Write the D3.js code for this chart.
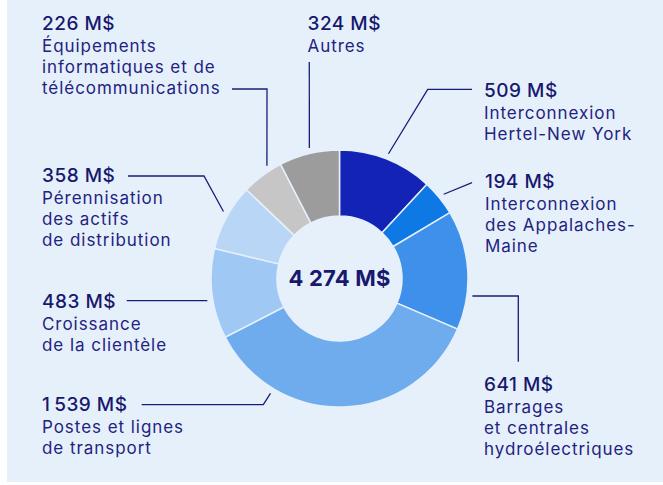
<!DOCTYPE html>
<html>
<head>
<meta charset="utf-8">
<script src="https://cdn.jsdelivr.net/npm/d3@7"></script>
<style>
  html, body { margin: 0; padding: 0; background: #ffffff; }
  svg { display: block; }
</style>
</head>
<body>
<svg id="chart" width="663" height="485"></svg>
<script>
// ---- Data ----
const categories = [
  "Interconnexion Hertel-New York",
  "Interconnexion des Appalaches-Maine",
  "Barrages et centrales hydroélectriques",
  "Postes et lignes de transport",
  "Croissance de la clientèle",
  "Pérennisation des actifs de distribution",
  "Équipements informatiques et de télécommunications",
  "Autres"
];
const values = [509, 194, 641, 1539, 483, 358, 226, 324];
const valueLabels = ["509 M$", "194 M$", "641 M$", "1\u2009539 M$", "483 M$", "358 M$", "226 M$", "324 M$"];
const labelLines = [
  ["Interconnexion", "Hertel-New York"],
  ["Interconnexion", "des Appalaches-", "Maine"],
  ["Barrages", "et centrales", "hydroélectriques"],
  ["Postes et lignes", "de transport"],
  ["Croissance", "de la clientèle"],
  ["Pérennisation", "des actifs", "de distribution"],
  ["Équipements", "informatiques et de", "télécommunications"],
  ["Autres"]
];
const totalLabel = "4 274 M$";

// ---- Styles / layout ----
const colors = ["#1323b6", "#0e78e4", "#3e90ea", "#6facee", "#a0c8f4", "#b9d6f7", "#c6c6c6", "#9c9c9c"];
const navy = "#17186e";
const descColor = "#23237f";
const cx = 339.5, cy = 278.5, R = 128.5, r0 = 62.5, rLine = 134;

// label anchor (text x, value baseline), connector start/elbow, optional end angle (deg)
const layout = [
  { x: 484, y: 97,  pts: [[472, 89.3], [427.7, 89.3]] },
  { x: 485, y: 188, pts: [[472, 182.7]] },
  { x: 484, y: 391, pts: [[518.3, 361.7], [518.3, 296]], angle: 97.5 },
  { x: 42,  y: 411, pts: [[141.7, 404.7], [263.3, 404.7]], angle: 211 },
  { x: 42,  y: 307.5, pts: [[126.7, 300.7]], angle: 260.5 },
  { x: 42,  y: 182, pts: [[128, 176], [204, 176]], angle: 300 },
  { x: 42,  y: 29.5, pts: [[232, 89], [267, 89]], angle: 327.2 },
  { x: 307.5, y: 29.5, pts: [[309.3, 62]], angle: 347 }
];

const svg = d3.select("#chart");

svg.append("rect")
  .attr("x", 7).attr("y", 0)
  .attr("width", 656).attr("height", 482)
  .attr("fill", "#e6f0fb");

const pie = d3.pie().value(d => d).sort(null);
const arcs = pie(values);
const arc = d3.arc().innerRadius(r0).outerRadius(R);

const g = svg.append("g").attr("transform", `translate(${cx},${cy})`);
g.selectAll("path.slice")
  .data(arcs)
  .join("path")
  .attr("class", "slice")
  .attr("d", arc)
  .attr("fill", (d, i) => colors[i])
  .attr("stroke", "#e6f0fb")
  .attr("stroke-width", 1.5);

g.append("text")
  .attr("x", 0).attr("y", 7)
  .attr("text-anchor", "middle")
  .attr("font-family", "Inter, 'Noto Sans', sans-serif")
  .attr("font-weight", 700)
  .attr("font-size", 22)
  .attr("letter-spacing", 0.2)
  .attr("fill", navy)
  .text(totalLabel);

// connectors and labels
arcs.forEach((a, i) => {
  const L = layout[i];
  const angDeg = L.angle != null ? L.angle : ((a.startAngle + a.endAngle) / 2) * 180 / Math.PI;
  const ang = angDeg * Math.PI / 180;
  const end = [cx + rLine * Math.sin(ang), cy - rLine * Math.cos(ang)];
  const pts = L.pts.concat([end]);
  svg.append("path")
    .attr("d", d3.line()(pts))
    .attr("fill", "none")
    .attr("stroke", "#1b1c78")
    .attr("stroke-width", 1.3);

  const t = svg.append("g");
  t.append("text")
    .attr("x", L.x).attr("y", L.y)
    .attr("font-family", "Inter, 'Noto Sans', sans-serif")
    .attr("font-weight", 500)
    .attr("font-size", 19)
    .attr("letter-spacing", 0.5)
    .attr("fill", navy)
    .text(valueLabels[i]);
  labelLines[i].forEach((line, j) => {
    t.append("text")
      .attr("x", L.x).attr("y", L.y + 22 + j * 21)
      .attr("font-family", "Inter, 'Noto Sans', sans-serif")
      .attr("font-weight", 400)
      .attr("font-size", 17)
      .attr("letter-spacing", 0.95)
      .attr("fill", descColor)
      .text(line);
  });
});
</script>
</body>
</html>
